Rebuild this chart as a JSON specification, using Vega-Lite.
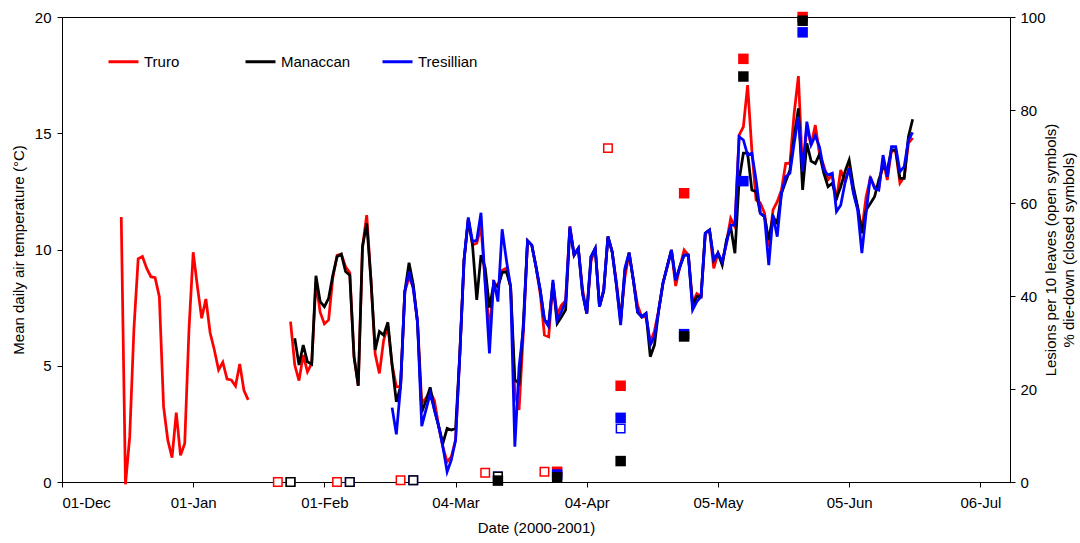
{
  "$schema": "https://vega.github.io/schema/vega-lite/v6.json",
  "width": 948,
  "height": 465,
  "autosize": {"type": "none"},
  "padding": {"left": 62, "top": 17, "right": 70, "bottom": 61},
  "background": "white",
  "config": {
    "font": "Liberation Sans",
    "view": {"stroke": "black", "strokeWidth": 1},
    "axis": {
      "grid": false,
      "domainColor": "black",
      "tickColor": "black",
      "tickSize": 5,
      "labelColor": "black",
      "labelFontSize": 15,
      "titleColor": "black",
      "titleFontSize": 15,
      "titleFontWeight": "normal"
    }
  },
  "datasets": {
    "temps": [
      {"date": "2000-12-15", "Truro": 11.4, "Manaccan": null, "Tresillian": null},
      {"date": "2000-12-16", "Truro": -0.1, "Manaccan": null, "Tresillian": null},
      {"date": "2000-12-17", "Truro": 1.95, "Manaccan": null, "Tresillian": null},
      {"date": "2000-12-18", "Truro": 6.6, "Manaccan": null, "Tresillian": null},
      {"date": "2000-12-19", "Truro": 9.6, "Manaccan": null, "Tresillian": null},
      {"date": "2000-12-20", "Truro": 9.7, "Manaccan": null, "Tresillian": null},
      {"date": "2000-12-21", "Truro": 9.2, "Manaccan": null, "Tresillian": null},
      {"date": "2000-12-22", "Truro": 8.83, "Manaccan": null, "Tresillian": null},
      {"date": "2000-12-23", "Truro": 8.79, "Manaccan": null, "Tresillian": null},
      {"date": "2000-12-24", "Truro": 7.97, "Manaccan": null, "Tresillian": null},
      {"date": "2000-12-25", "Truro": 3.24, "Manaccan": null, "Tresillian": null},
      {"date": "2000-12-26", "Truro": 1.8, "Manaccan": null, "Tresillian": null},
      {"date": "2000-12-27", "Truro": 1.05, "Manaccan": null, "Tresillian": null},
      {"date": "2000-12-28", "Truro": 2.98, "Manaccan": null, "Tresillian": null},
      {"date": "2000-12-29", "Truro": 1.15, "Manaccan": null, "Tresillian": null},
      {"date": "2000-12-30", "Truro": 1.66, "Manaccan": null, "Tresillian": null},
      {"date": "2000-12-31", "Truro": 6.54, "Manaccan": null, "Tresillian": null},
      {"date": "2001-01-01", "Truro": 9.88, "Manaccan": null, "Tresillian": null},
      {"date": "2001-01-02", "Truro": 8.4, "Manaccan": null, "Tresillian": null},
      {"date": "2001-01-03", "Truro": 7.04, "Manaccan": null, "Tresillian": null},
      {"date": "2001-01-04", "Truro": 7.87, "Manaccan": null, "Tresillian": null},
      {"date": "2001-01-05", "Truro": 6.42, "Manaccan": null, "Tresillian": null},
      {"date": "2001-01-06", "Truro": 5.68, "Manaccan": null, "Tresillian": null},
      {"date": "2001-01-07", "Truro": 4.82, "Manaccan": null, "Tresillian": null},
      {"date": "2001-01-08", "Truro": 5.15, "Manaccan": null, "Tresillian": null},
      {"date": "2001-01-09", "Truro": 4.43, "Manaccan": null, "Tresillian": null},
      {"date": "2001-01-10", "Truro": 4.39, "Manaccan": null, "Tresillian": null},
      {"date": "2001-01-11", "Truro": 4.13, "Manaccan": null, "Tresillian": null},
      {"date": "2001-01-12", "Truro": 5.08, "Manaccan": null, "Tresillian": null},
      {"date": "2001-01-13", "Truro": 3.93, "Manaccan": null, "Tresillian": null},
      {"date": "2001-01-14", "Truro": 3.53, "Manaccan": null, "Tresillian": null},
      {"date": "2001-01-18", "Truro": null, "Manaccan": null, "Tresillian": null},
      {"date": "2001-01-24", "Truro": 6.9, "Manaccan": null, "Tresillian": null},
      {"date": "2001-01-25", "Truro": 5.03, "Manaccan": 6.18, "Tresillian": null},
      {"date": "2001-01-26", "Truro": 4.36, "Manaccan": 5.03, "Tresillian": null},
      {"date": "2001-01-27", "Truro": 5.46, "Manaccan": 5.89, "Tresillian": null},
      {"date": "2001-01-28", "Truro": 4.74, "Manaccan": 5.17, "Tresillian": null},
      {"date": "2001-01-29", "Truro": 5.1, "Manaccan": 5.07, "Tresillian": null},
      {"date": "2001-01-30", "Truro": 8.6, "Manaccan": 8.87, "Tresillian": null},
      {"date": "2001-01-31", "Truro": 7.3, "Manaccan": 7.76, "Tresillian": null},
      {"date": "2001-02-01", "Truro": 6.8, "Manaccan": 7.54, "Tresillian": null},
      {"date": "2001-02-02", "Truro": 6.97, "Manaccan": 7.9, "Tresillian": null},
      {"date": "2001-02-03", "Truro": 8.8, "Manaccan": 8.9, "Tresillian": null},
      {"date": "2001-02-04", "Truro": 9.75, "Manaccan": 9.69, "Tresillian": null},
      {"date": "2001-02-05", "Truro": 9.8, "Manaccan": 9.8, "Tresillian": null},
      {"date": "2001-02-06", "Truro": 9.26, "Manaccan": 9.05, "Tresillian": null},
      {"date": "2001-02-07", "Truro": 9.0, "Manaccan": 8.9, "Tresillian": null},
      {"date": "2001-02-08", "Truro": 5.4, "Manaccan": 5.39, "Tresillian": null},
      {"date": "2001-02-09", "Truro": 4.14, "Manaccan": 4.14, "Tresillian": null},
      {"date": "2001-02-10", "Truro": 10.1, "Manaccan": 10.12, "Tresillian": null},
      {"date": "2001-02-11", "Truro": 11.48, "Manaccan": 11.13, "Tresillian": null},
      {"date": "2001-02-12", "Truro": 8.69, "Manaccan": 8.69, "Tresillian": null},
      {"date": "2001-02-13", "Truro": 5.5, "Manaccan": 5.68, "Tresillian": null},
      {"date": "2001-02-14", "Truro": 4.67, "Manaccan": 6.47, "Tresillian": null},
      {"date": "2001-02-15", "Truro": 6.1, "Manaccan": 6.32, "Tresillian": null},
      {"date": "2001-02-16", "Truro": 6.7, "Manaccan": 6.87, "Tresillian": null},
      {"date": "2001-02-17", "Truro": 5.03, "Manaccan": 5.03, "Tresillian": 3.2},
      {"date": "2001-02-18", "Truro": 4.1, "Manaccan": 3.45, "Tresillian": 2.05},
      {"date": "2001-02-19", "Truro": 4.1, "Manaccan": 4.1, "Tresillian": 4.1},
      {"date": "2001-02-20", "Truro": 8.19, "Manaccan": 8.19, "Tresillian": 8.19},
      {"date": "2001-02-21", "Truro": 8.8, "Manaccan": 9.43, "Tresillian": 9.05},
      {"date": "2001-02-22", "Truro": 8.4, "Manaccan": 8.5, "Tresillian": 8.3},
      {"date": "2001-02-23", "Truro": 6.9, "Manaccan": 6.85, "Tresillian": 6.9},
      {"date": "2001-02-24", "Truro": 3.4, "Manaccan": 3.0, "Tresillian": 2.4},
      {"date": "2001-02-25", "Truro": 3.6, "Manaccan": 3.5, "Tresillian": 3.1},
      {"date": "2001-02-26", "Truro": 3.9, "Manaccan": 4.07, "Tresillian": 3.8},
      {"date": "2001-02-27", "Truro": 3.5, "Manaccan": 3.1, "Tresillian": 3.1},
      {"date": "2001-02-28", "Truro": 2.4, "Manaccan": 2.4, "Tresillian": 2.4},
      {"date": "2001-03-01", "Truro": 1.5, "Manaccan": 1.66, "Tresillian": 1.52},
      {"date": "2001-03-02", "Truro": 0.87, "Manaccan": 2.31, "Tresillian": 0.44},
      {"date": "2001-03-03", "Truro": 1.09, "Manaccan": 2.24, "Tresillian": 0.95},
      {"date": "2001-03-04", "Truro": 1.8, "Manaccan": 2.3, "Tresillian": 1.8},
      {"date": "2001-03-05", "Truro": 5.5, "Manaccan": 5.5, "Tresillian": 5.5},
      {"date": "2001-03-06", "Truro": 9.55, "Manaccan": 9.55, "Tresillian": 9.55},
      {"date": "2001-03-07", "Truro": 11.3, "Manaccan": 11.3, "Tresillian": 11.38},
      {"date": "2001-03-08", "Truro": 10.2, "Manaccan": 10.2, "Tresillian": 10.34},
      {"date": "2001-03-09", "Truro": 10.27, "Manaccan": 7.83, "Tresillian": 10.4},
      {"date": "2001-03-10", "Truro": 10.98, "Manaccan": 9.76, "Tresillian": 11.58},
      {"date": "2001-03-11", "Truro": 8.6, "Manaccan": 9.2, "Tresillian": 8.5},
      {"date": "2001-03-12", "Truro": 6.5, "Manaccan": 7.5, "Tresillian": 5.53},
      {"date": "2001-03-13", "Truro": 8.6, "Manaccan": 8.5, "Tresillian": 8.69},
      {"date": "2001-03-14", "Truro": 8.4, "Manaccan": 8.4, "Tresillian": 7.76},
      {"date": "2001-03-15", "Truro": 9.1, "Manaccan": 9.0, "Tresillian": 10.87},
      {"date": "2001-03-16", "Truro": 9.2, "Manaccan": 9.05, "Tresillian": 9.55},
      {"date": "2001-03-17", "Truro": 8.4, "Manaccan": 8.4, "Tresillian": 8.4},
      {"date": "2001-03-18", "Truro": 3.81, "Manaccan": 4.39, "Tresillian": 1.52},
      {"date": "2001-03-19", "Truro": 3.1, "Manaccan": 4.24, "Tresillian": 4.96},
      {"date": "2001-03-20", "Truro": 6.4, "Manaccan": 6.8, "Tresillian": 6.54},
      {"date": "2001-03-21", "Truro": 10.38, "Manaccan": 10.38, "Tresillian": 10.38},
      {"date": "2001-03-22", "Truro": 10.19, "Manaccan": 10.19, "Tresillian": 10.19},
      {"date": "2001-03-23", "Truro": 9.26, "Manaccan": 9.26, "Tresillian": 9.26},
      {"date": "2001-03-24", "Truro": 8.1, "Manaccan": 8.26, "Tresillian": 8.26},
      {"date": "2001-03-25", "Truro": 6.32, "Manaccan": 6.97, "Tresillian": 6.97},
      {"date": "2001-03-26", "Truro": 6.25, "Manaccan": 6.82, "Tresillian": 6.68},
      {"date": "2001-03-27", "Truro": 8.55, "Manaccan": 8.55, "Tresillian": 8.69},
      {"date": "2001-03-28", "Truro": 7.2, "Manaccan": 6.82, "Tresillian": 6.97},
      {"date": "2001-03-29", "Truro": 7.6, "Manaccan": 7.1, "Tresillian": 7.33},
      {"date": "2001-03-30", "Truro": 7.8, "Manaccan": 7.4, "Tresillian": 7.76},
      {"date": "2001-03-31", "Truro": 11.0, "Manaccan": 10.9, "Tresillian": 10.98},
      {"date": "2001-04-01", "Truro": 9.76, "Manaccan": 9.76, "Tresillian": 9.76},
      {"date": "2001-04-02", "Truro": 10.05, "Manaccan": 10.05, "Tresillian": 10.05},
      {"date": "2001-04-03", "Truro": 8.3, "Manaccan": 8.11, "Tresillian": 8.11},
      {"date": "2001-04-04", "Truro": 7.25, "Manaccan": 7.25, "Tresillian": 7.25},
      {"date": "2001-04-05", "Truro": 9.5, "Manaccan": 9.69, "Tresillian": 9.69},
      {"date": "2001-04-06", "Truro": 10.05, "Manaccan": 10.05, "Tresillian": 10.05},
      {"date": "2001-04-07", "Truro": 7.54, "Manaccan": 7.54, "Tresillian": 7.54},
      {"date": "2001-04-08", "Truro": 8.26, "Manaccan": 8.2, "Tresillian": 8.26},
      {"date": "2001-04-09", "Truro": 10.55, "Manaccan": 10.55, "Tresillian": 10.55},
      {"date": "2001-04-10", "Truro": 9.9, "Manaccan": 9.9, "Tresillian": 9.9},
      {"date": "2001-04-11", "Truro": 8.6, "Manaccan": 8.47, "Tresillian": 8.47},
      {"date": "2001-04-12", "Truro": 7.0, "Manaccan": 6.9, "Tresillian": 6.75},
      {"date": "2001-04-13", "Truro": 8.8, "Manaccan": 9.1, "Tresillian": 9.19},
      {"date": "2001-04-14", "Truro": 9.86, "Manaccan": 9.86, "Tresillian": 9.86},
      {"date": "2001-04-15", "Truro": 8.69, "Manaccan": 8.69, "Tresillian": 8.69},
      {"date": "2001-04-16", "Truro": 7.6, "Manaccan": 7.3, "Tresillian": 7.33},
      {"date": "2001-04-17", "Truro": 7.1, "Manaccan": 7.1, "Tresillian": 7.1},
      {"date": "2001-04-18", "Truro": 7.1, "Manaccan": 7.25, "Tresillian": 7.25},
      {"date": "2001-04-19", "Truro": 6.0, "Manaccan": 5.39, "Tresillian": 5.89},
      {"date": "2001-04-20", "Truro": 6.5, "Manaccan": 5.9, "Tresillian": 6.25},
      {"date": "2001-04-21", "Truro": 7.4, "Manaccan": 7.4, "Tresillian": 7.4},
      {"date": "2001-04-22", "Truro": 8.55, "Manaccan": 8.55, "Tresillian": 8.55},
      {"date": "2001-04-23", "Truro": 9.26, "Manaccan": 9.26, "Tresillian": 9.26},
      {"date": "2001-04-24", "Truro": 9.98, "Manaccan": 9.98, "Tresillian": 9.98},
      {"date": "2001-04-25", "Truro": 8.43, "Manaccan": 8.69, "Tresillian": 8.69},
      {"date": "2001-04-26", "Truro": 9.26, "Manaccan": 9.26, "Tresillian": 9.26},
      {"date": "2001-04-27", "Truro": 9.98, "Manaccan": 9.76, "Tresillian": 9.76},
      {"date": "2001-04-28", "Truro": 9.76, "Manaccan": 9.76, "Tresillian": 9.76},
      {"date": "2001-04-29", "Truro": 7.7, "Manaccan": 7.6, "Tresillian": 7.4},
      {"date": "2001-04-30", "Truro": 8.1, "Manaccan": 7.97, "Tresillian": 7.76},
      {"date": "2001-05-01", "Truro": 7.97, "Manaccan": 7.97, "Tresillian": 7.97},
      {"date": "2001-05-02", "Truro": 10.7, "Manaccan": 10.7, "Tresillian": 10.7},
      {"date": "2001-05-03", "Truro": 10.84, "Manaccan": 10.84, "Tresillian": 10.84},
      {"date": "2001-05-04", "Truro": 9.19, "Manaccan": 9.55, "Tresillian": 9.55},
      {"date": "2001-05-05", "Truro": 9.84, "Manaccan": 9.84, "Tresillian": 9.84},
      {"date": "2001-05-06", "Truro": 9.41, "Manaccan": 9.33, "Tresillian": 9.48},
      {"date": "2001-05-07", "Truro": 10.3, "Manaccan": 10.41, "Tresillian": 10.26},
      {"date": "2001-05-08", "Truro": 11.34, "Manaccan": 10.98, "Tresillian": 11.05},
      {"date": "2001-05-09", "Truro": 10.98, "Manaccan": 9.84, "Tresillian": 11.05},
      {"date": "2001-05-10", "Truro": 14.92, "Manaccan": 12.99, "Tresillian": 14.85},
      {"date": "2001-05-11", "Truro": 15.28, "Manaccan": 14.14, "Tresillian": 14.71},
      {"date": "2001-05-12", "Truro": 17.07, "Manaccan": 14.14, "Tresillian": 14.06},
      {"date": "2001-05-13", "Truro": 14.28, "Manaccan": 12.56, "Tresillian": 14.14},
      {"date": "2001-05-14", "Truro": 12.13, "Manaccan": 12.49, "Tresillian": 12.99},
      {"date": "2001-05-15", "Truro": 12.0, "Manaccan": 11.56, "Tresillian": 11.56},
      {"date": "2001-05-16", "Truro": 11.56, "Manaccan": 11.41, "Tresillian": 11.41},
      {"date": "2001-05-17", "Truro": 10.12, "Manaccan": 10.41, "Tresillian": 9.33},
      {"date": "2001-05-18", "Truro": 11.7, "Manaccan": 11.41, "Tresillian": 11.48},
      {"date": "2001-05-19", "Truro": 12.06, "Manaccan": 11.13, "Tresillian": 10.55},
      {"date": "2001-05-20", "Truro": 12.56, "Manaccan": 12.42, "Tresillian": 12.42},
      {"date": "2001-05-21", "Truro": 13.7, "Manaccan": 12.92, "Tresillian": 13.13},
      {"date": "2001-05-22", "Truro": 13.7, "Manaccan": 13.42, "Tresillian": 13.28},
      {"date": "2001-05-23", "Truro": 15.86, "Manaccan": 14.85, "Tresillian": 14.57},
      {"date": "2001-05-24", "Truro": 17.46, "Manaccan": 16.07, "Tresillian": 15.71},
      {"date": "2001-05-25", "Truro": 13.28, "Manaccan": 12.56, "Tresillian": 13.35},
      {"date": "2001-05-26", "Truro": 15.28, "Manaccan": 14.57, "Tresillian": 15.5},
      {"date": "2001-05-27", "Truro": 14.5, "Manaccan": 13.8, "Tresillian": 14.5},
      {"date": "2001-05-28", "Truro": 15.35, "Manaccan": 13.7, "Tresillian": 14.9},
      {"date": "2001-05-29", "Truro": 14.1, "Manaccan": 14.1, "Tresillian": 14.4},
      {"date": "2001-05-30", "Truro": 13.6, "Manaccan": 13.28, "Tresillian": 13.42},
      {"date": "2001-05-31", "Truro": 13.0, "Manaccan": 12.7, "Tresillian": 13.2},
      {"date": "2001-06-01", "Truro": 13.2, "Manaccan": 12.85, "Tresillian": 13.28},
      {"date": "2001-06-02", "Truro": 12.13, "Manaccan": 12.2, "Tresillian": 11.63},
      {"date": "2001-06-03", "Truro": 13.42, "Manaccan": 12.7, "Tresillian": 11.9},
      {"date": "2001-06-04", "Truro": 12.92, "Manaccan": 13.35, "Tresillian": 12.85},
      {"date": "2001-06-05", "Truro": 13.56, "Manaccan": 13.85, "Tresillian": 13.49},
      {"date": "2001-06-06", "Truro": 12.5, "Manaccan": 12.7, "Tresillian": 12.42},
      {"date": "2001-06-07", "Truro": 11.8, "Manaccan": 11.84, "Tresillian": 11.7},
      {"date": "2001-06-08", "Truro": 10.84, "Manaccan": 10.7, "Tresillian": 9.84},
      {"date": "2001-06-09", "Truro": 12.27, "Manaccan": 11.7, "Tresillian": 11.56},
      {"date": "2001-06-10", "Truro": 13.06, "Manaccan": 11.98, "Tresillian": 13.13},
      {"date": "2001-06-11", "Truro": 12.7, "Manaccan": 12.27, "Tresillian": 12.63},
      {"date": "2001-06-12", "Truro": 12.63, "Manaccan": 12.99, "Tresillian": 12.56},
      {"date": "2001-06-13", "Truro": 13.85, "Manaccan": 13.56, "Tresillian": 14.06},
      {"date": "2001-06-14", "Truro": 12.99, "Manaccan": 13.42, "Tresillian": 13.13},
      {"date": "2001-06-15", "Truro": 14.28, "Manaccan": 14.28, "Tresillian": 14.42},
      {"date": "2001-06-16", "Truro": 14.2, "Manaccan": 14.28, "Tresillian": 14.42},
      {"date": "2001-06-17", "Truro": 12.85, "Manaccan": 13.06, "Tresillian": 13.35},
      {"date": "2001-06-18", "Truro": 13.13, "Manaccan": 13.06, "Tresillian": 13.56},
      {"date": "2001-06-19", "Truro": 14.57, "Manaccan": 14.85, "Tresillian": 14.71},
      {"date": "2001-06-20", "Truro": 14.8, "Manaccan": 15.6, "Tresillian": 15.04}
    ],
    "lesions": [
      {"date": "2001-01-21", "site": "Truro", "value": 0},
      {"date": "2001-02-04", "site": "Truro", "value": 0},
      {"date": "2001-02-19", "site": "Truro", "value": 0.4},
      {"date": "2001-03-11", "site": "Truro", "value": 2.0},
      {"date": "2001-03-25", "site": "Truro", "value": 2.2},
      {"date": "2001-04-09", "site": "Truro", "value": 71.8},
      {"date": "2001-01-24", "site": "Tresillian", "value": 0},
      {"date": "2001-02-07", "site": "Tresillian", "value": 0},
      {"date": "2001-02-22", "site": "Tresillian", "value": 0.4},
      {"date": "2001-03-14", "site": "Tresillian", "value": 1.2},
      {"date": "2001-04-12", "site": "Tresillian", "value": 11.5},
      {"date": "2001-01-24", "site": "Manaccan", "value": 0},
      {"date": "2001-02-07", "site": "Manaccan", "value": 0},
      {"date": "2001-02-22", "site": "Manaccan", "value": 0.4},
      {"date": "2001-03-14", "site": "Manaccan", "value": 1.2}
    ],
    "diedown": [
      {"date": "2001-03-28", "site": "Truro", "value": 2.2},
      {"date": "2001-04-12", "site": "Truro", "value": 20.7},
      {"date": "2001-04-27", "site": "Truro", "value": 62.1},
      {"date": "2001-05-11", "site": "Truro", "value": 91.0},
      {"date": "2001-05-25", "site": "Truro", "value": 100},
      {"date": "2001-03-28", "site": "Tresillian", "value": 1.6},
      {"date": "2001-04-12", "site": "Tresillian", "value": 13.8},
      {"date": "2001-04-27", "site": "Tresillian", "value": 31.8},
      {"date": "2001-05-11", "site": "Tresillian", "value": 64.7},
      {"date": "2001-05-25", "site": "Tresillian", "value": 96.7},
      {"date": "2001-03-14", "site": "Manaccan", "value": 0.3},
      {"date": "2001-03-28", "site": "Manaccan", "value": 1.0},
      {"date": "2001-04-12", "site": "Manaccan", "value": 4.5},
      {"date": "2001-04-27", "site": "Manaccan", "value": 31.3},
      {"date": "2001-05-11", "site": "Manaccan", "value": 87.2},
      {"date": "2001-05-25", "site": "Manaccan", "value": 99.2}
    ]
  },
  "encoding": {
    "x": {
      "field": "date",
      "type": "temporal",
      "scale": {
        "type": "utc",
        "domain": [
          {"year": 2000, "month": 12, "date": 1, "utc": true},
          {"year": 2001, "month": 7, "date": 13, "utc": true}
        ]
      },
      "axis": {
        "title": "Date (2000-2001)",
        "labelExpr": "utcFormat(datum.value, '%d-%b')",
        "labelOverlap": false,
        "labelPadding": 8,
        "titlePadding": 10,
        "values": [
          {"year": 2000, "month": 12, "date": 1, "utc": true},
          {"year": 2001, "month": 1, "date": 1, "utc": true},
          {"year": 2001, "month": 2, "date": 1, "utc": true},
          {"year": 2001, "month": 3, "date": 4, "utc": true},
          {"year": 2001, "month": 4, "date": 4, "utc": true},
          {"year": 2001, "month": 5, "date": 5, "utc": true},
          {"year": 2001, "month": 6, "date": 5, "utc": true},
          {"year": 2001, "month": 7, "date": 6, "utc": true}
        ]
      }
    }
  },
  "layer": [
    {
      "data": {"name": "temps"},
      "transform": [
        {"fold": ["Truro", "Manaccan", "Tresillian"], "as": ["site", "temp"]}
      ],
      "encoding": {
        "y": {
          "field": "temp",
          "type": "quantitative",
          "scale": {"domain": [0, 20], "nice": false},
          "axis": {
            "title": "Mean daily air temperature (°C)",
            "values": [0, 5, 10, 15, 20],
            "labelPadding": 6,
            "titlePadding": 8
          }
        },
        "color": {
          "field": "site",
          "type": "nominal",
          "scale": {
            "domain": ["Truro", "Manaccan", "Tresillian"],
            "range": ["#ff0000", "#000000", "#0000ff"]
          },
          "legend": {
            "title": null,
            "orient": "none",
            "legendX": 45,
            "legendY": 28,
            "direction": "horizontal",
            "columns": 3,
            "gridAlign": "all",
            "columnPadding": 25,
            "padding": 0,
            "symbolType": "stroke",
            "symbolSize": 900,
            "symbolStrokeWidth": 3,
            "labelFontSize": 15,
            "labelColor": "black",
            "labelOffset": 4
          }
        }
      },
      "layer": [
        {
          "transform": [{"filter": "datum.site === 'Truro'"}],
          "mark": {"type": "line", "strokeWidth": 2.75, "invalid": "break-paths-show-domains"}
        },
        {
          "transform": [{"filter": "datum.site === 'Manaccan'"}],
          "mark": {"type": "line", "strokeWidth": 2.75, "invalid": "break-paths-show-domains"}
        },
        {
          "transform": [{"filter": "datum.site === 'Tresillian'"}],
          "mark": {"type": "line", "strokeWidth": 2.75, "invalid": "break-paths-show-domains"}
        }
      ]
    },
    {
      "encoding": {
        "y": {
          "field": "value",
          "type": "quantitative",
          "scale": {"domain": [0, 100], "nice": false},
          "axis": {
            "orient": "right",
            "title": ["Lesions per 10 leaves (open symbols)", "% die-down (closed symbols)"],
            "titleAngle": 270,
            "titleLineHeight": 18,
            "values": [0, 20, 40, 60, 80, 100],
            "labelPadding": 5,
            "titlePadding": -5
          }
        }
      },
      "layer": [
        {
          "data": {"name": "lesions"},
          "mark": {"type": "point", "shape": "square", "filled": true, "fill": "white", "size": 72, "strokeWidth": 1.5, "opacity": 1},
          "encoding": {
            "stroke": {
              "field": "site",
              "type": "nominal",
              "scale": {"domain": ["Truro", "Manaccan", "Tresillian"], "range": ["#ff0000", "#000000", "#0000ff"]},
              "legend": null
            }
          }
        },
        {
          "data": {"name": "diedown"},
          "mark": {"type": "point", "shape": "square", "filled": true, "size": 110, "strokeWidth": 0, "opacity": 1},
          "encoding": {
            "fill": {
              "field": "site",
              "type": "nominal",
              "scale": {"domain": ["Truro", "Manaccan", "Tresillian"], "range": ["#ff0000", "#000000", "#0000ff"]},
              "legend": null
            }
          }
        }
      ]
    }
  ],
  "resolve": {"scale": {"y": "independent"}}
}
